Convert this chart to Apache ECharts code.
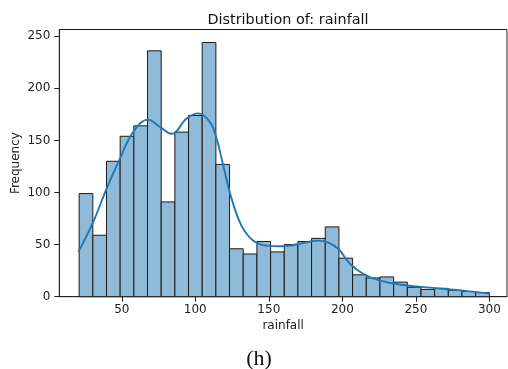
<!DOCTYPE html>
<html>
<head>
<meta charset="utf-8">
<script src="https://cdn.jsdelivr.net/npm/echarts@6/dist/echarts.min.js"></script>
<style>
html,body{margin:0;padding:0;background:#fff;}
#c{width:508px;height:369px;}
</style>
</head>
<body>
<div id="c"></div>
<script>
// ---- data ----
const binStart = 21.0;
const binWidth = 9.3;
const counts = [99, 59, 130, 154, 164, 236, 91, 158, 174, 244, 127, 46, 41, 53, 43, 50, 53, 56, 67, 37, 21, 18, 19, 14, 9, 7, 8, 6, 5, 4];
const kdeX = [20.5, 30.5, 39.6, 48.6, 57.7, 67.9, 75.9, 83.9, 94.1, 102, 110, 114.5, 119, 124.7, 131.5, 139.4, 148.6, 157.6, 164.4, 173.5, 183.7, 190.5, 197.3, 205.3, 214.4, 225.7, 241.6, 259.8, 278, 299.5];
const kdeY = [43, 71.5, 103.5, 132, 158, 170, 163, 156.4, 171, 176, 167.6, 151.6, 126, 94, 68, 53.8, 49, 48.4, 49, 51.6, 53.8, 52, 45.8, 31.4, 21.8, 15.4, 11.2, 8.7, 6.4, 3.2];
const xTicks = [50, 100, 150, 200, 250, 300];
const yTicks = [0, 50, 100, 150, 200, 250];

const histData = counts.map((c, i) => [binStart + i * binWidth, binStart + (i + 1) * binWidth, c]);
const kdeData = kdeX.map((x, i) => [x, kdeY[i]]);

const chart = echarts.init(document.getElementById('c'), null, {renderer: 'canvas'});
const axisColor = '#222';
const font = 'DejaVu Sans';
chart.setOption({
  animation: false,
  backgroundColor: '#fff',
  title: [
    {text: 'Distribution of: rainfall', left: 283, top: 8, textAlign: 'center',
     textStyle: {fontFamily: font, fontSize: 14.4, fontWeight: 'normal', color: '#111'}},
    {text: '(h)', left: 254, top: 343, textAlign: 'center',
     textStyle: {fontFamily: 'Liberation Serif', fontSize: 22, fontWeight: 'normal', color: '#111'}}
  ],
  grid: {left: 59.3, top: 29.5, width: 447.7, height: 267.2, show: true, borderColor: axisColor, borderWidth: 1,
         containLabel: false, outerBoundsMode: 'none'},
  xAxis: {
    type: 'value', min: 7.5, max: 312,
    name: 'rainfall', nameLocation: 'middle', nameGap: 23, nameMoveOverlap: false,
    nameTextStyle: {fontFamily: font, fontSize: 12, color: '#222'},
    axisLine: {show: true, lineStyle: {color: axisColor, width: 1}},
    axisTick: {show: true, length: 5, customValues: xTicks, lineStyle: {color: axisColor}},
    axisLabel: {customValues: xTicks, fontFamily: font, fontSize: 12, color: '#222', margin: 7},
    splitLine: {show: false}
  },
  yAxis: {
    type: 'value', min: 0, max: 256.5,
    name: 'Frequency', nameLocation: 'middle', nameGap: 37, nameMoveOverlap: false,
    nameTextStyle: {fontFamily: font, fontSize: 12, color: '#222'},
    axisLine: {show: true, lineStyle: {color: axisColor, width: 1}},
    axisTick: {show: true, length: 5, customValues: yTicks, lineStyle: {color: axisColor}},
    axisLabel: {customValues: yTicks, fontFamily: font, fontSize: 12, color: '#222', margin: 9},
    splitLine: {show: false}
  },
  series: [
    {
      type: 'custom',
      data: histData,
      encode: {x: [0, 1], y: 2},
      renderItem: function (params, api) {
        const p0 = api.coord([api.value(0), api.value(2)]);
        const p1 = api.coord([api.value(1), 0]);
        return {
          type: 'rect',
          shape: {x: p0[0], y: p0[1], width: p1[0] - p0[0], height: p1[1] - p0[1]},
          style: {fill: '#8fbbd9', stroke: '#1a1a1a', lineWidth: 1}
        };
      },
      z: 2
    },
    {
      type: 'line',
      data: kdeData,
      smooth: 0.4,
      showSymbol: false,
      lineStyle: {color: '#1f77b4', width: 1.9},
      z: 3
    }
  ]
});
</script>
</body>
</html>
